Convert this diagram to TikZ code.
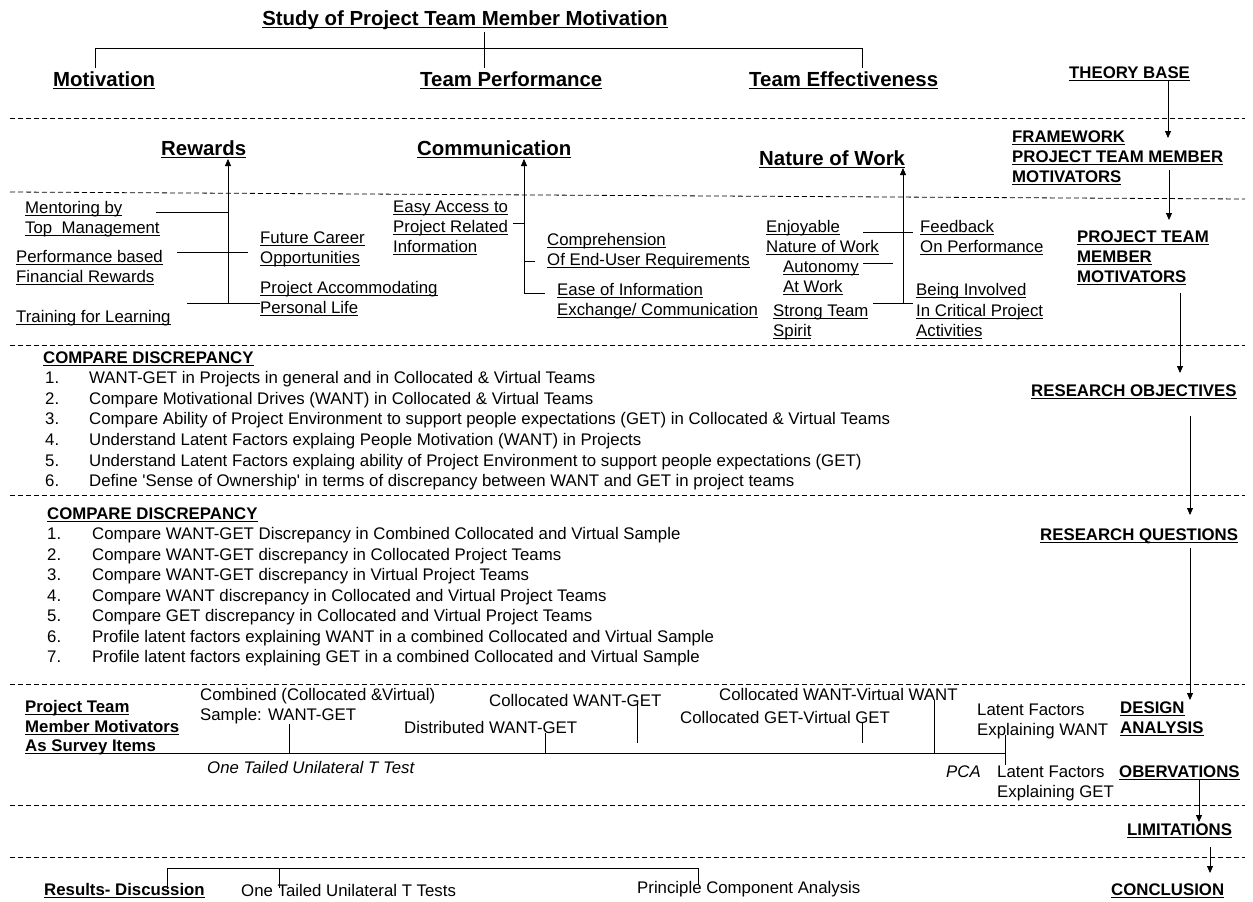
\documentclass[tikz,border=0pt]{standalone}
\usepackage{fontspec}
\setmainfont{Liberation Sans}
\usetikzlibrary{arrows.meta}
% underlined text: rule drawn under the full width of the box
\newsavebox\ulbox
\newcommand\ul[2][2.5pt]{\sbox\ulbox{#2}\rlap{\rule[-#1]{\wd\ulbox}{0.9pt}}\usebox\ulbox}
\newcommand\rg{\fontsize{16.8}{19}\selectfont}
\newcommand\bd{\fontsize{16.8}{19}\selectfont\bfseries}
\newcommand\hd{\fontsize{20.4}{23}\selectfont\bfseries}
\tikzset{
  txt/.style={anchor=base west,inner sep=0pt,font=\rg},
  bld/.style={txt,font=\bd},
  hdr/.style={txt,font=\hd,outer ysep=3pt},
  itl/.style={txt,font=\rg\itshape},
  sep/.style={dash pattern=on 5pt off 3pt,line width=0.8pt},
  wire/.style={line width=0.8pt},
  arr/.style={wire,-{Triangle[length=7pt,width=6pt]}}
}
\begin{document}
\begin{tikzpicture}[x=1pt,y=-1pt]
\fill[white] (0,0) rectangle (1253,902);
\useasboundingbox (0,0) rectangle (1253,902);

% ---------- band separators ----------
\draw[sep] (10,118) -- (1245,118);
\draw[sep] (10,192) -- (1245,199);
\draw[sep] (10,345) -- (1245,345);
\draw[sep] (10,495) -- (1245,495);
\draw[sep] (10,684) -- (1245,684);
\draw[sep] (10,805) -- (1245,805);
\draw[sep] (10,857) -- (1245,857);

% ---------- theory base ----------
\node[hdr,anchor=base] (title) at (465,25) {\ul[3pt]{Study of Project Team Member Motivation}};
\node[hdr] (mot)   at (53,86)  {\ul[3pt]{Motivation}};
\node[hdr] (tperf) at (420,86) {\ul[3pt]{Team Performance}};
\node[hdr] (teff)  at (749,86) {\ul[3pt]{Team Effectiveness}};
\node[bld] (theory) at (1069,78) {\ul{THEORY BASE}};
\coordinate (tj) at (484,48);
\coordinate (xm) at (95,48);
\coordinate (xe) at (862,48);
\draw[wire] (title.south -| tj) -- (tj);
\draw[wire] (mot.north -| xm) -- (xm) -- (xe) -- (teff.north -| xe);
\draw[wire] (tj) -- (tperf.north -| tj);

% ---------- framework ----------
\node[hdr] (rew)  at (161,155) {\ul[3pt]{Rewards}};
\node[hdr] (comm) at (417,155) {\ul[3pt]{Communication}};
\node[hdr] (now)  at (759,165) {\ul[3pt]{Nature of Work}};
\node[bld] (fw1) at (1012,142) {\ul{FRAMEWORK}};
\node[bld] (fw2) at (1012,162) {\ul{PROJECT TEAM MEMBER}};
\node[bld] (fw3) at (1012,182) {\ul{MOTIVATORS}};
\coordinate (a1e) at (1168,138);
\draw[arr] (theory.south -| a1e) -- (a1e);

% rewards
\node[txt] (ment1) at (25,213) {\ul{Mentoring by}};
\node[txt] (ment2) at (25,233) {\ul{Top\ \ Management}};
\node[txt] (perf1) at (16,262) {\ul{Performance based}};
\node[txt] (perf2) at (16,282) {\ul{Financial Rewards}};
\node[txt] (train) at (16,322) {\ul{Training for Learning}};
\node[txt] (fut1) at (260,243) {\ul{Future Career}};
\node[txt] (fut2) at (260,263) {\ul{Opportunities}};
\node[txt] (pal1) at (260,293) {\ul{Project Accommodating}};
\node[txt] (pal2) at (260,313) {\ul{Personal Life}};
\coordinate (rb) at (228,303);
\coordinate (rm) at (228,212);
\coordinate (rl1) at (156,212);
\coordinate (rl2a) at (177,252);
\coordinate (rl2b) at (248,252);
\coordinate (rl3) at (187,303);
\draw[arr] (rb) -- ([yshift=2pt]rew.south -| rb);
\draw[wire] (rl1) -- (rm);
\draw[wire] (rl2a) -- (rl2b);
\draw[wire] (rl3) -- (pal2.west |- rb);

% communication
\node[txt] (easy1) at (393,212) {\ul{Easy Access to}};
\node[txt] (easy2) at (393,232) {\ul{Project Related}};
\node[txt] (easy3) at (393,252) {\ul{Information}};
\node[txt] (comp1) at (547,245) {\ul{Comprehension}};
\node[txt] (comp2) at (547,265) {\ul{Of End-User Requirements}};
\node[txt] (ease1) at (557,295) {\ul{Ease of Information}};
\node[txt] (ease2) at (557,315) {\ul{Exchange/ Communication}};
\coordinate (cb) at (524,293);
\coordinate (cbr) at (545,293);
\coordinate (ce) at (513,223);
\coordinate (ct) at (535,261);
\draw[arr] (cbr) -- (cb) -- ([yshift=2pt]comm.south -| cb);
\draw[wire] (ce) -- (ce -| cb);
\draw[wire] (ct -| cb) -- (ct);

% nature of work
\node[txt] (enj1) at (766,232) {\ul{Enjoyable}};
\node[txt] (enj2) at (766,252) {\ul{Nature of Work}};
\node[txt] (feed1) at (920,232) {\ul{Feedback}};
\node[txt] (feed2) at (920,252) {\ul{On Performance}};
\node[txt] (aut1) at (783,272) {\ul{Autonomy}};
\node[txt] (aut2) at (783,292) {\ul{At Work}};
\node[txt] (str1) at (773,316) {\ul{Strong Team}};
\node[txt] (str2) at (773,336) {\ul{Spirit}};
\node[txt] (inv1) at (916,295) {\ul{Being Involved}};
\node[txt] (inv2) at (916,316) {\ul{In Critical Project}};
\node[txt] (inv3) at (916,336) {\ul{Activities}};
\coordinate (nb) at (903,303);
\coordinate (nl1) at (863,232);
\coordinate (nr1) at (913,232);
\coordinate (nl2) at (863,263);
\coordinate (nr2) at (893,263);
\coordinate (nl3) at (873,303);
\coordinate (nr3) at (913,303);
\draw[arr] (nb) -- ([yshift=3pt]now.south -| nb);
\draw[wire] (nl1) -- (nr1);
\draw[wire] (nl2) -- (nr2);
\draw[wire] (nl3) -- (nr3);

% project team member motivators
\node[bld] (ptm1) at (1077,242) {\ul{PROJECT TEAM}};
\node[bld] (ptm2) at (1077,262) {\ul{MEMBER}};
\node[bld] (ptm3) at (1077,282) {\ul{MOTIVATORS}};
\coordinate (a2s) at (1169,170);
\coordinate (a2e) at (1169,220);
\draw[arr] (a2s) -- (a2e);

% ---------- research objectives ----------
\node[bld] (ro) at (1031,396) {\ul{RESEARCH OBJECTIVES}};
\coordinate (a3s) at (1180,293);
\coordinate (a3e) at (1180,373);
\draw[arr] (a3s) -- (a3e);
\node[bld] (cd1) at (43,363) {\ul{COMPARE DISCREPANCY}};
\foreach \t [count=\i] in {
  {WANT-GET in Projects in general and in Collocated \& Virtual Teams},
  {Compare Motivational Drives (WANT) in Collocated \& Virtual Teams},
  {Compare Ability of Project Environment to support people expectations (GET) in Collocated \& Virtual Teams},
  {Understand Latent Factors explaing People Motivation (WANT) in Projects},
  {Understand Latent Factors explaing ability of Project Environment to support people expectations (GET)},
  {Define \textquotesingle Sense of Ownership\textquotesingle\ in terms of discrepancy between WANT and GET in project teams}}
{
  \node[txt] (on\i) at (45,363+20.6*\i) {\i.};
  \node[txt] (ot\i) at (89,363+20.6*\i) {\t};
}

% ---------- research questions ----------
\node[bld] (rq) at (1040,540) {\ul{RESEARCH QUESTIONS}};
\coordinate (a4s) at (1190,416);
\coordinate (a4e) at (1190,515);
\draw[arr] (a4s) -- (a4e);
\node[bld] (cd2) at (47,519) {\ul{COMPARE DISCREPANCY}};
\foreach \t [count=\i] in {
  {Compare WANT-GET Discrepancy in Combined Collocated and Virtual Sample},
  {Compare WANT-GET discrepancy in Collocated Project Teams},
  {Compare WANT-GET discrepancy in Virtual Project Teams},
  {Compare WANT discrepancy in Collocated and Virtual Project Teams},
  {Compare GET discrepancy in Collocated and Virtual Project Teams},
  {Profile latent factors explaining WANT in a combined Collocated and Virtual Sample},
  {Profile latent factors explaining GET in a combined Collocated and Virtual Sample}}
{
  \node[txt] (qn\i) at (47,519+20.5*\i) {\i.};
  \node[txt] (qt\i) at (92,519+20.5*\i) {\t};
}

% ---------- design analysis ----------
\node[bld] (des1) at (1120,713) {\ul{DESIGN}};
\node[bld] (des2) at (1120,733) {\ul{ANALYSIS}};
\coordinate (a5s) at (1190,548);
\coordinate (a5e) at (1190,700);
\draw[arr] (a5s) -- (a5e);

\node[bld] (pt1) at (25,712) {\ul{Project Team}};
\node[bld] (pt2) at (25,732) {\ul{Member Motivators}};
\node[bld] (pt3) at (25,751) {\ul{As Survey Items}};
\node[txt] (comb1) at (200,700) {Combined (Collocated \&Virtual)};
\node[txt] (comb2) at (200,720) {Sample: WANT-GET};
\node[txt] (dist) at (404,733) {Distributed WANT-GET};
\node[txt] (colw) at (489,706) {Collocated WANT-GET};
\node[txt] (cwv) at (719,700) {Collocated WANT-Virtual WANT};
\node[txt] (cgv) at (680,723) {Collocated GET-Virtual GET};
\node[txt] (lw1) at (977,715) {Latent Factors};
\node[txt] (lw2) at (977,735) {Explaining WANT};
\node[itl] (ottt) at (207,773) {One Tailed Unilateral T Test};
\node[itl] (pca) at (946,777) {PCA};
\node[txt] (lg1) at (997,777) {Latent Factors};
\node[txt] (lg2) at (997,797) {Explaining GET};

\coordinate (ml) at (1005,753);
\draw[wire] (pt3.east |- ml) -- (ml);
\coordinate (k1) at (289,753);
\coordinate (k2) at (545,753);
\coordinate (k3) at (637,743);
\coordinate (k4) at (862,743);
\coordinate (k5) at (934,753);
\draw[wire] (comb2.south -| k1) -- (k1);
\draw[wire] (dist.south -| k2) -- (k2);
\draw[wire] ([yshift=5pt]colw.south -| k3) -- (k3);
\draw[wire] (cgv.south -| k4) -- (k4);
\draw[wire] (cwv.south -| k5) -- (k5);
\draw[wire] (lw2.base -| ml) -- (lg1.north -| ml);

% ---------- observations, limitations, conclusion ----------
\node[bld] (obs) at (1119,777) {\ul{OBERVATIONS}};
\node[bld] (lim) at (1127,835) {\ul{LIMITATIONS}};
\node[bld] (conc) at (1111,895) {\ul{CONCLUSION}};
\coordinate (a6e) at (1199,822);
\draw[arr] (obs.south -| a6e) -- (a6e);
\coordinate (a7s) at (1210,847);
\coordinate (a7e) at (1210,873);
\draw[arr] (a7s) -- (a7e);

\node[bld] (res) at (44,895) {\ul{Results- Discussion}};
\node[txt] (ott) at (241,896) {One Tailed Unilateral T Tests};
\node[txt] (pcan) at (637,893) {Principle Component Analysis};
\coordinate (b1) at (167,868);
\coordinate (b2) at (279,868);
\coordinate (b3) at (698,868);
\draw[wire] ([yshift=-6pt]res.north -| b1) -- (b1) -- (b3) -- ([yshift=-4pt]pcan.north -| b3);
\draw[wire] (b2) -- ([yshift=-4pt]ott.north -| b2);
\end{tikzpicture}
\end{document}
